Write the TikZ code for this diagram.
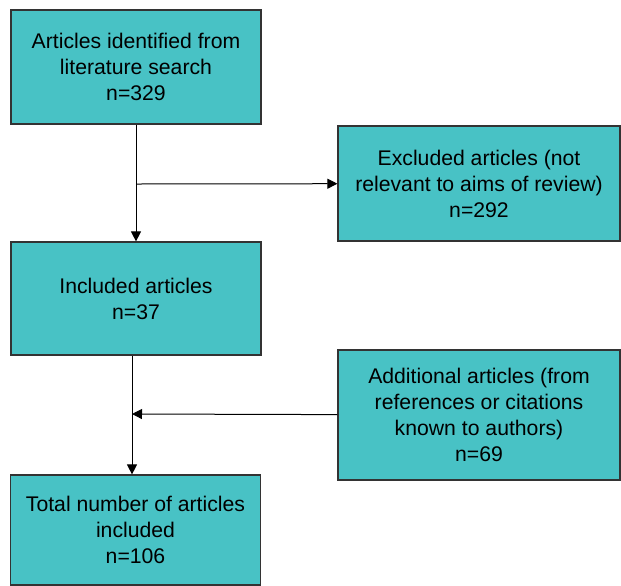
\documentclass[tikz,border=0pt]{standalone}
\usepackage{fontspec}
\setmainfont{Liberation Sans}
\usepackage{xcolor}
\usepackage{tikz}
\usetikzlibrary{arrows.meta}
\definecolor{boxteal}{RGB}{72,194,197}
\definecolor{boxline}{RGB}{51,51,51}
\tikzset{
	main box/.style={rectangle,draw=boxline,fill=boxteal,line width=0.6pt,align=center,
		font=\fontsize{10.6}{13}\selectfont,inner sep=0pt},
	wide box/.style={main box,minimum width=141pt},
	narrow box/.style={main box,minimum width=125pt}
}

\begin{document}
\begin{tikzpicture}[x=0.5pt,y=-0.5pt,->,>={Triangle[length=5pt,width=5pt]},line width=0.5pt]
	\useasboundingbox (0,0) rectangle (621,585);
	    \node [narrow box,minimum height=57pt] (found) at (136,67) {Articles identified from\\literature search\\n=329};
	    \node [wide box,minimum height=57.5pt] (excluded) at (479,183.5) {Excluded articles (not\\relevant to aims of review)\\n=292};
	    \node [narrow box,minimum height=56.5pt] (included) at (136,298.5) {Included articles\\n=37};
	    \node [wide box,minimum height=65pt] (additional) at (479,415) {Additional articles (from\\references or citations\\known to authors)\\n=69};
	    \node [narrow box,minimum height=55pt] (total) at (135.5,530) {Total number of articles\\included\\n=106};
	    \coordinate (split) at (136,184);
	    \coordinate (join) at (132,414);
	    \draw (found) -- (included);
	    \draw (split) -- (excluded);
	    \draw [-] (included.south -| join) -- (join);
	    \draw (join) -- (total.north -| join);
	    \draw (additional) -- (join);
\end{tikzpicture}
\end{document}
